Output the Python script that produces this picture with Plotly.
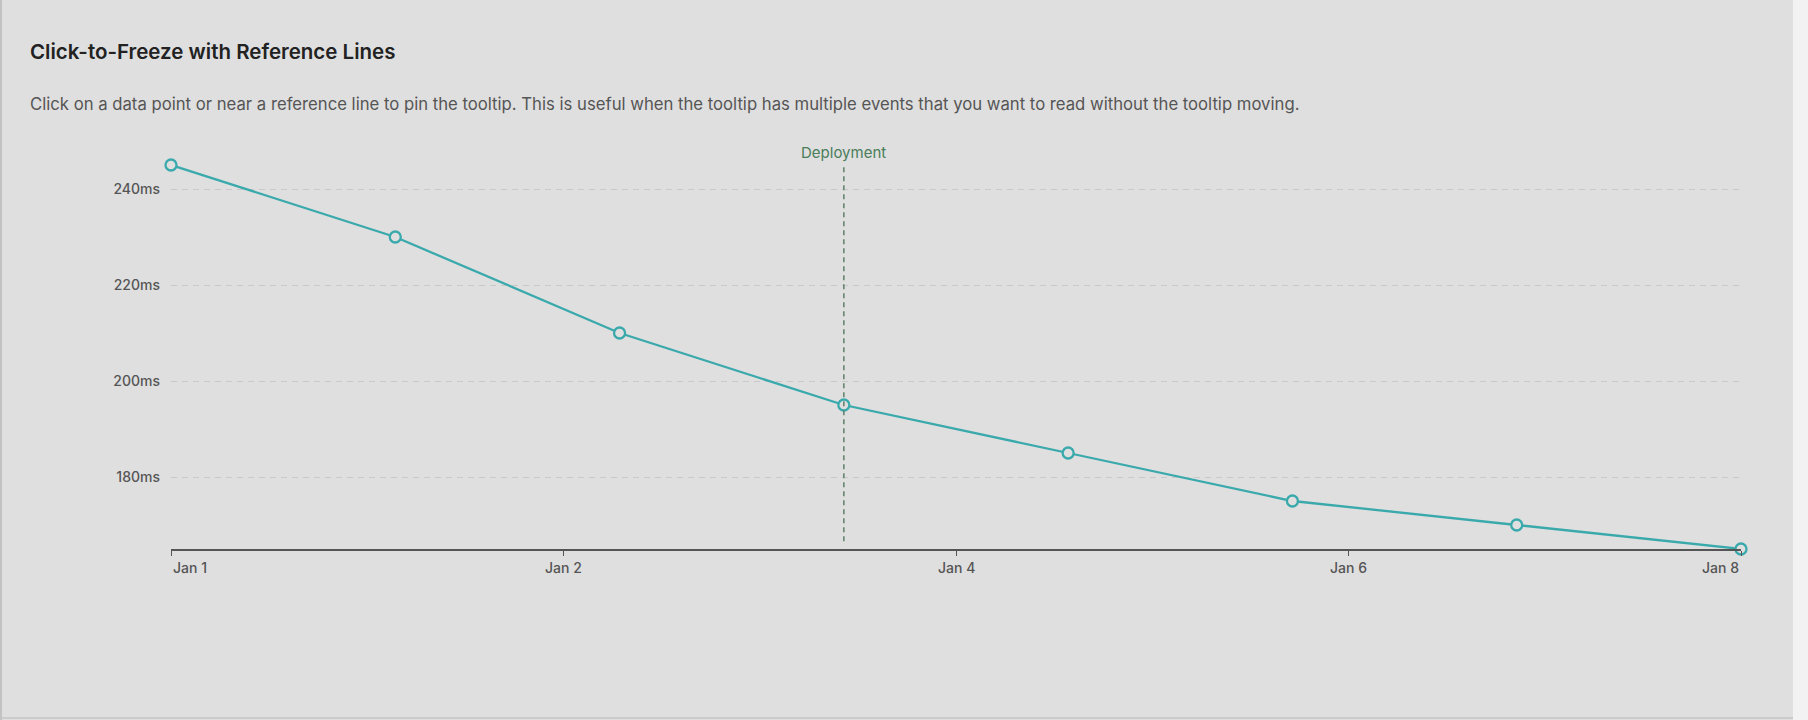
import plotly.graph_objects as go

# latency readings, one per day
dates = ["2024-01-01", "2024-01-02", "2024-01-03", "2024-01-04",
         "2024-01-05", "2024-01-06", "2024-01-07", "2024-01-08"]
latency_ms = [245, 230, 210, 195, 185, 175, 170, 165]

# reference line
deploy_date = "2024-01-04"
deploy_label = "Deployment"

# axis ticks (5 evenly spaced ticks across the range)
x_tick_vals = ["2024-01-01 00:00", "2024-01-02 18:00", "2024-01-04 12:00",
               "2024-01-06 06:00", "2024-01-08 00:00"]
x_tick_text = ["Jan 1", "Jan 2", "Jan 4", "Jan 6", "Jan 8"]
y_tick_vals = [180, 200, 220, 240]
y_tick_text = ["180ms", "200ms", "220ms", "240ms"]

W, H = 1808, 720
L, R, T, B = 171, 67, 165, 171
plot_w = W - L - R
plot_h = H - T - B

BG = "#dfdfdf"
TEAL = "#3aa9ac"
FONT = "Inter, Noto Sans, sans-serif"

fig = go.Figure()

fig.add_trace(go.Scatter(
    x=dates, y=latency_ms,
    mode="lines+markers",
    line=dict(color=TEAL, width=2.3),
    marker=dict(symbol="circle", size=11, color=BG,
                line=dict(color=TEAL, width=2.3)),
    cliponaxis=False,
    hoverinfo="skip",
))

# reference line + label
fig.add_shape(type="line", xref="x", yref="paper",
              x0=deploy_date, x1=deploy_date, y0=0.02, y1=1,
              line=dict(color="#5f7f6c", width=1.5, dash="5px,4px"))
fig.add_annotation(x=deploy_date, xref="x", y=1, yref="paper",
                   text=deploy_label, showarrow=False,
                   xanchor="center", yanchor="bottom", yshift=1,
                   font=dict(family=FONT, size=15, color="#4a7d5a"))

# x tick labels: first left-aligned, last right-aligned, others centred
anchors = ["left"] + ["center"] * (len(x_tick_text) - 2) + ["right"]
for tv, tt, anc in zip(x_tick_vals, x_tick_text, anchors):
    fig.add_annotation(x=tv, xref="x", y=0, yref="paper",
                       text=tt, showarrow=False,
                       xanchor=anc, yanchor="top", yshift=-8,
                       font=dict(family=FONT, size=14, color="#555555",
                                 weight=500))

# page frame bits (light strip at right, thin border lines)
fig.add_shape(type="rect", xref="paper", yref="paper",
              x0=(1793 - L) / plot_w, x1=(W + 5 - L) / plot_w,
              y0=-B / plot_h - 0.05, y1=(plot_h + T) / plot_h + 0.05,
              fillcolor="#f2f2f2", line=dict(width=0), layer="below")
fig.add_shape(type="line", xref="paper", yref="paper",
              x0=(1 - L) / plot_w, x1=(1 - L) / plot_w,
              y0=-B / plot_h, y1=(plot_h + T) / plot_h,
              line=dict(color="#b8b8b8", width=1.5))
fig.add_shape(type="line", xref="paper", yref="paper",
              x0=-L / plot_w, x1=(1793 - L) / plot_w,
              y0=-(B - 2) / plot_h, y1=-(B - 2) / plot_h,
              line=dict(color="#c4c4c4", width=1.5))

fig.update_layout(
    width=W, height=H,
    margin=dict(l=L, r=R, t=T, b=B),
    paper_bgcolor=BG, plot_bgcolor=BG,
    showlegend=False,
    font=dict(family=FONT, color="#555555"),
    title=dict(text="Click-to-Freeze with Reference Lines",
               xref="container", yref="container",
               x=30 / W, xanchor="left", y=1 - 52 / H, yanchor="middle",
               font=dict(family=FONT, size=20.5, color="#222222", weight=600)),
    xaxis=dict(
        type="date",
        range=[dates[0], dates[-1]],
        tickvals=x_tick_vals, ticktext=[""] * len(x_tick_vals),
        showgrid=False, zeroline=False,
        showline=True, linecolor="#555555", linewidth=1.5,
        ticks="outside", ticklen=5, tickwidth=1, tickcolor="#555555",
        fixedrange=True,
    ),
    yaxis=dict(
        range=[165, 245],
        tickvals=y_tick_vals, ticktext=y_tick_text,
        tickfont=dict(family=FONT, size=14, color="#555555", weight=500),
        showgrid=True, gridcolor="#c9c9c9", gridwidth=1, griddash="6px,5px",
        zeroline=False, showline=False, ticks="", ticklabelstandoff=10,
        fixedrange=True,
    ),
)

fig.add_annotation(
    text="Click on a data point or near a reference line to pin the tooltip. "
         "This is useful when the tooltip has multiple events that you want "
         "to read without the tooltip moving.",
    xref="paper", yref="paper",
    x=(28 - L) / plot_w, y=(plot_h + T - 104) / plot_h,
    xanchor="left", yanchor="middle", showarrow=False,
    font=dict(family=FONT, size=16.7, color="#555555"),
)

fig.write_html("out.html",
               config={"displayModeBar": False},
               post_script="document.body.style.margin='0';"
                           "document.body.style.overflow='hidden';")
